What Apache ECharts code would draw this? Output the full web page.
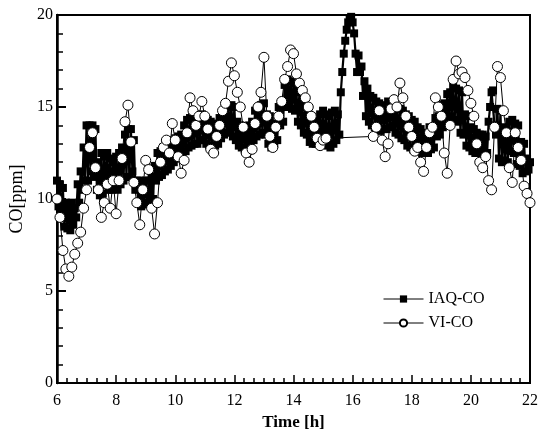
<!DOCTYPE html>
<html>
<head>
<meta charset="utf-8">
<script src="https://cdn.jsdelivr.net/npm/echarts@6/dist/echarts.min.js"></script>
<style>
  html, body { margin: 0; padding: 0; background: #fff; }
  #chart { width: 541px; height: 447px; }
</style>
</head>
<body>
<div id="chart"></div>
<script>
// both logs start at 6:00; IAQ every 0.05 h, VI every 0.1 h
const startHour = 6;
const iaqStep = 0.05;
const viStep = 0.1;

// one line per hour (6 .. 21), last value at 22:00
const iaqCO = [
  11.0, 9.6, 10.8, 9.2, 10.6, 8.5, 9.8, 8.4, 9.5, 8.3, 9.8, 8.6, 9.5, 9.0, 10.8, 9.8, 11.5, 10.5, 12.8, 11.0,
  14.0, 11.0, 14.0, 11.5, 14.0, 11.2, 13.8, 10.5, 12.0, 10.2, 12.5, 10.3, 12.3, 10.8, 12.5, 10.5, 12.2, 10.5, 12.0, 10.8,
  12.3, 10.5, 12.5, 10.8, 12.8, 11.0, 13.5, 11.2, 13.8, 11.2, 13.8, 11.5, 13.2, 10.5, 11.0, 9.8, 11.0, 9.6, 10.9, 9.7,
  11.0, 9.8, 11.0, 10.2, 11.2, 10.0, 11.8, 11.0, 12.5, 11.2, 12.6, 11.3, 12.8, 11.5, 12.9, 11.6, 13.0, 11.8, 13.2, 12.0,
  13.3, 12.2, 13.4, 12.4, 13.5, 12.3, 14.0, 12.6, 14.3, 12.8, 14.4, 12.9, 14.2, 13.0, 14.5, 13.0, 14.5, 13.2, 14.6, 13.2,
  14.4, 13.0, 14.3, 12.9, 14.2, 12.8, 14.1, 12.9, 14.0, 13.0, 14.4, 13.3, 14.5, 13.5, 15.0, 13.6, 15.0, 13.8, 15.1, 13.4,
  15.0, 13.2, 14.2, 12.9, 14.0, 12.8, 13.9, 12.7, 13.8, 12.8, 14.0, 13.0, 14.2, 13.2, 14.8, 13.4, 15.0, 13.5, 15.1, 13.6,
  15.2, 13.5, 14.6, 13.0, 14.5, 12.8, 14.1, 13.0, 14.0, 13.2, 15.0, 14.0, 15.2, 14.2, 16.2, 15.0, 16.5, 15.2, 16.4, 14.9,
  16.3, 14.8, 15.9, 14.2, 15.8, 14.0, 15.2, 13.6, 15.0, 13.5, 14.6, 13.1, 14.5, 13.0, 14.3, 13.0, 14.2, 13.2, 14.6, 13.1,
  14.8, 13.0, 14.6, 12.9, 14.5, 12.8, 14.7, 13.0, 14.8, 13.2, 14.6, 13.5, 15.8, 16.9, 17.9, 18.6, 19.2, 19.6, 19.8, 19.9,
  19.6, 19.0, 17.9, 16.9, 17.8, 16.9, 17.2, 15.6, 16.4, 14.5, 16.0, 14.2, 15.6, 14.0, 15.5, 13.9, 15.3, 13.8, 15.2, 13.7,
  15.1, 13.8, 15.0, 13.8, 15.3, 13.9, 15.2, 14.0, 15.1, 13.6, 15.0, 13.5, 14.9, 13.3, 14.8, 13.2, 14.6, 12.9, 14.5, 12.8,
  14.3, 12.7, 14.2, 12.6, 13.9, 12.6, 13.8, 12.5, 13.6, 12.5, 13.5, 12.5, 13.9, 12.7, 13.8, 12.8, 14.4, 13.4, 14.5, 13.5,
  15.1, 13.9, 15.2, 14.0, 15.7, 14.4, 15.8, 14.5, 16.1, 14.3, 16.0, 14.2, 15.9, 13.6, 15.8, 13.5, 14.6, 12.9, 14.5, 12.8,
  13.9, 12.6, 13.8, 12.5, 13.6, 12.5, 13.5, 12.6, 13.5, 12.5, 13.4, 12.5, 14.2, 15.0, 15.8, 15.9, 14.0, 13.5, 14.9, 12.2,
  14.8, 12.0, 13.9, 12.1, 13.8, 12.0, 14.2, 12.6, 14.3, 12.5, 14.1, 11.9, 14.0, 11.8, 13.1, 11.4, 13.0, 11.5, 12.2, 11.6,
  12.0
];

// one line per hour, nulls where VI logged nothing (15.2 .. 16.6 h)
const viCO = [
  10.0, 9.0, 7.2, 6.2, 5.8, 6.3, 7.0, 7.6, 8.2, 9.5,
  10.5, 12.8, 13.6, 11.7, 10.5, 9.0, 9.8, 10.8, 9.5, 11.0,
  9.2, 11.0, 12.2, 14.2, 15.1, 13.1, 10.9, 9.8, 8.6, 10.5,
  12.1, 11.6, 9.5, 8.1, 9.8, 12.0, 12.8, 13.2, 12.5, 14.1,
  13.2, 12.3, 11.4, 12.1, 13.6, 15.5, 14.8, 14.0, 14.5, 15.3,
  14.5, 13.8, 12.7, 12.5, 13.4, 14.0, 14.8, 15.2, 16.4, 17.4,
  16.7, 15.8, 15.0, 13.9, 12.5, 12.0, 12.7, 14.1, 15.0, 15.8,
  17.7, 14.5, 13.4, 12.8, 13.9, 14.5, 15.3, 16.5, 17.2, 18.1,
  17.9, 16.8, 16.3, 15.9, 15.5, 15.0, 14.5, 13.9, 13.3, 12.9,
  13.2, 13.3, null, null, null, null, null, null, null, null,
  null, null, null, null, null, null, null, 13.4, 13.9, 14.8,
  13.2, 12.3, 13.0, 14.9, 15.4, 15.0, 16.3, 15.5, 14.5, 13.9,
  13.4, 12.6, 12.8, 12.0, 11.5, 12.8, 13.6, 13.9, 15.5, 15.0,
  14.5, 12.5, 11.4, 14.0, 16.5, 17.5, 16.8, 16.9, 16.6, 15.9,
  15.2, 14.5, 13.0, 12.0, 11.7, 12.3, 11.0, 10.5, 13.9, 17.2,
  16.6, 14.8, 13.6, 11.7, 10.9, 13.6, 12.8, 12.1, 10.7, 10.3,
  9.8
];

const seriesNames = ['IAQ-CO', 'VI-CO'];

function pairs(values, step) {
  return values.map((v, i) => [+(startHour + i * step).toFixed(2), v]);
}

const font = 'Liberation Serif';
const chart = echarts.init(document.getElementById('chart'));

const option = {
  animation: false,
  backgroundColor: '#fff',
  textStyle: { fontFamily: font, color: '#000' },
  grid: {
    left: 52, right: 11, top: 15, bottom: 64,
    show: true, borderColor: '#000', borderWidth: 2
  },
  legend: {
    orient: 'vertical',
    left: 378, top: 286,
    itemWidth: 40, itemHeight: 9, itemGap: 8,
    lineStyle: { width: 1 },
    textStyle: { fontFamily: font, fontSize: 16, color: '#000' },
    data: seriesNames
  },
  xAxis: {
    type: 'value',
    min: 6, max: 22, interval: 2,
    name: 'Time [h]',
    nameLocation: 'middle',
    nameGap: 26,
    nameTextStyle: { fontFamily: font, fontSize: 17, fontWeight: 'bold', color: '#000' },
    axisLine: { lineStyle: { color: '#000', width: 2 } },
    axisTick: { inside: true, length: 8, lineStyle: { color: '#000', width: 1.5 } },
    minorTick: { show: true, splitNumber: 6, length: 5, lineStyle: { color: '#000', width: 1.5 } },
    axisLabel: { fontFamily: font, fontSize: 16, color: '#000', margin: 10 },
    splitLine: { show: false }
  },
  yAxis: {
    type: 'value',
    min: 0, max: 20, interval: 5,
    name: 'CO[ppm]',
    nameLocation: 'middle',
    nameRotate: 90,
    nameGap: 31,
    nameTextStyle: { fontFamily: font, fontSize: 18, color: '#000' },
    axisLine: { lineStyle: { color: '#000', width: 2.5 } },
    axisTick: { inside: true, length: 9, lineStyle: { color: '#000', width: 2 } },
    minorTick: { show: true, splitNumber: 5, length: 6, lineStyle: { color: '#000', width: 1.5 } },
    axisLabel: { fontFamily: font, fontSize: 16, color: '#000', margin: 4 },
    splitLine: { show: false }
  },
  series: [
    {
      name: seriesNames[0],
      type: 'line',
      data: pairs(iaqCO, iaqStep),
      symbol: 'rect',
      symbolSize: 8,
      lineStyle: { color: '#000', width: 2.2 },
      itemStyle: { color: '#000' },
      z: 2
    },
    {
      name: seriesNames[1],
      type: 'line',
      data: pairs(viCO, viStep),
      connectNulls: true,
      symbol: 'circle',
      symbolSize: 10,
      lineStyle: { color: '#000', width: 1 },
      itemStyle: { color: '#fff', borderColor: '#000', borderWidth: 1 },
      z: 3
    }
  ]
};

chart.setOption(option);
</script>
</body>
</html>
